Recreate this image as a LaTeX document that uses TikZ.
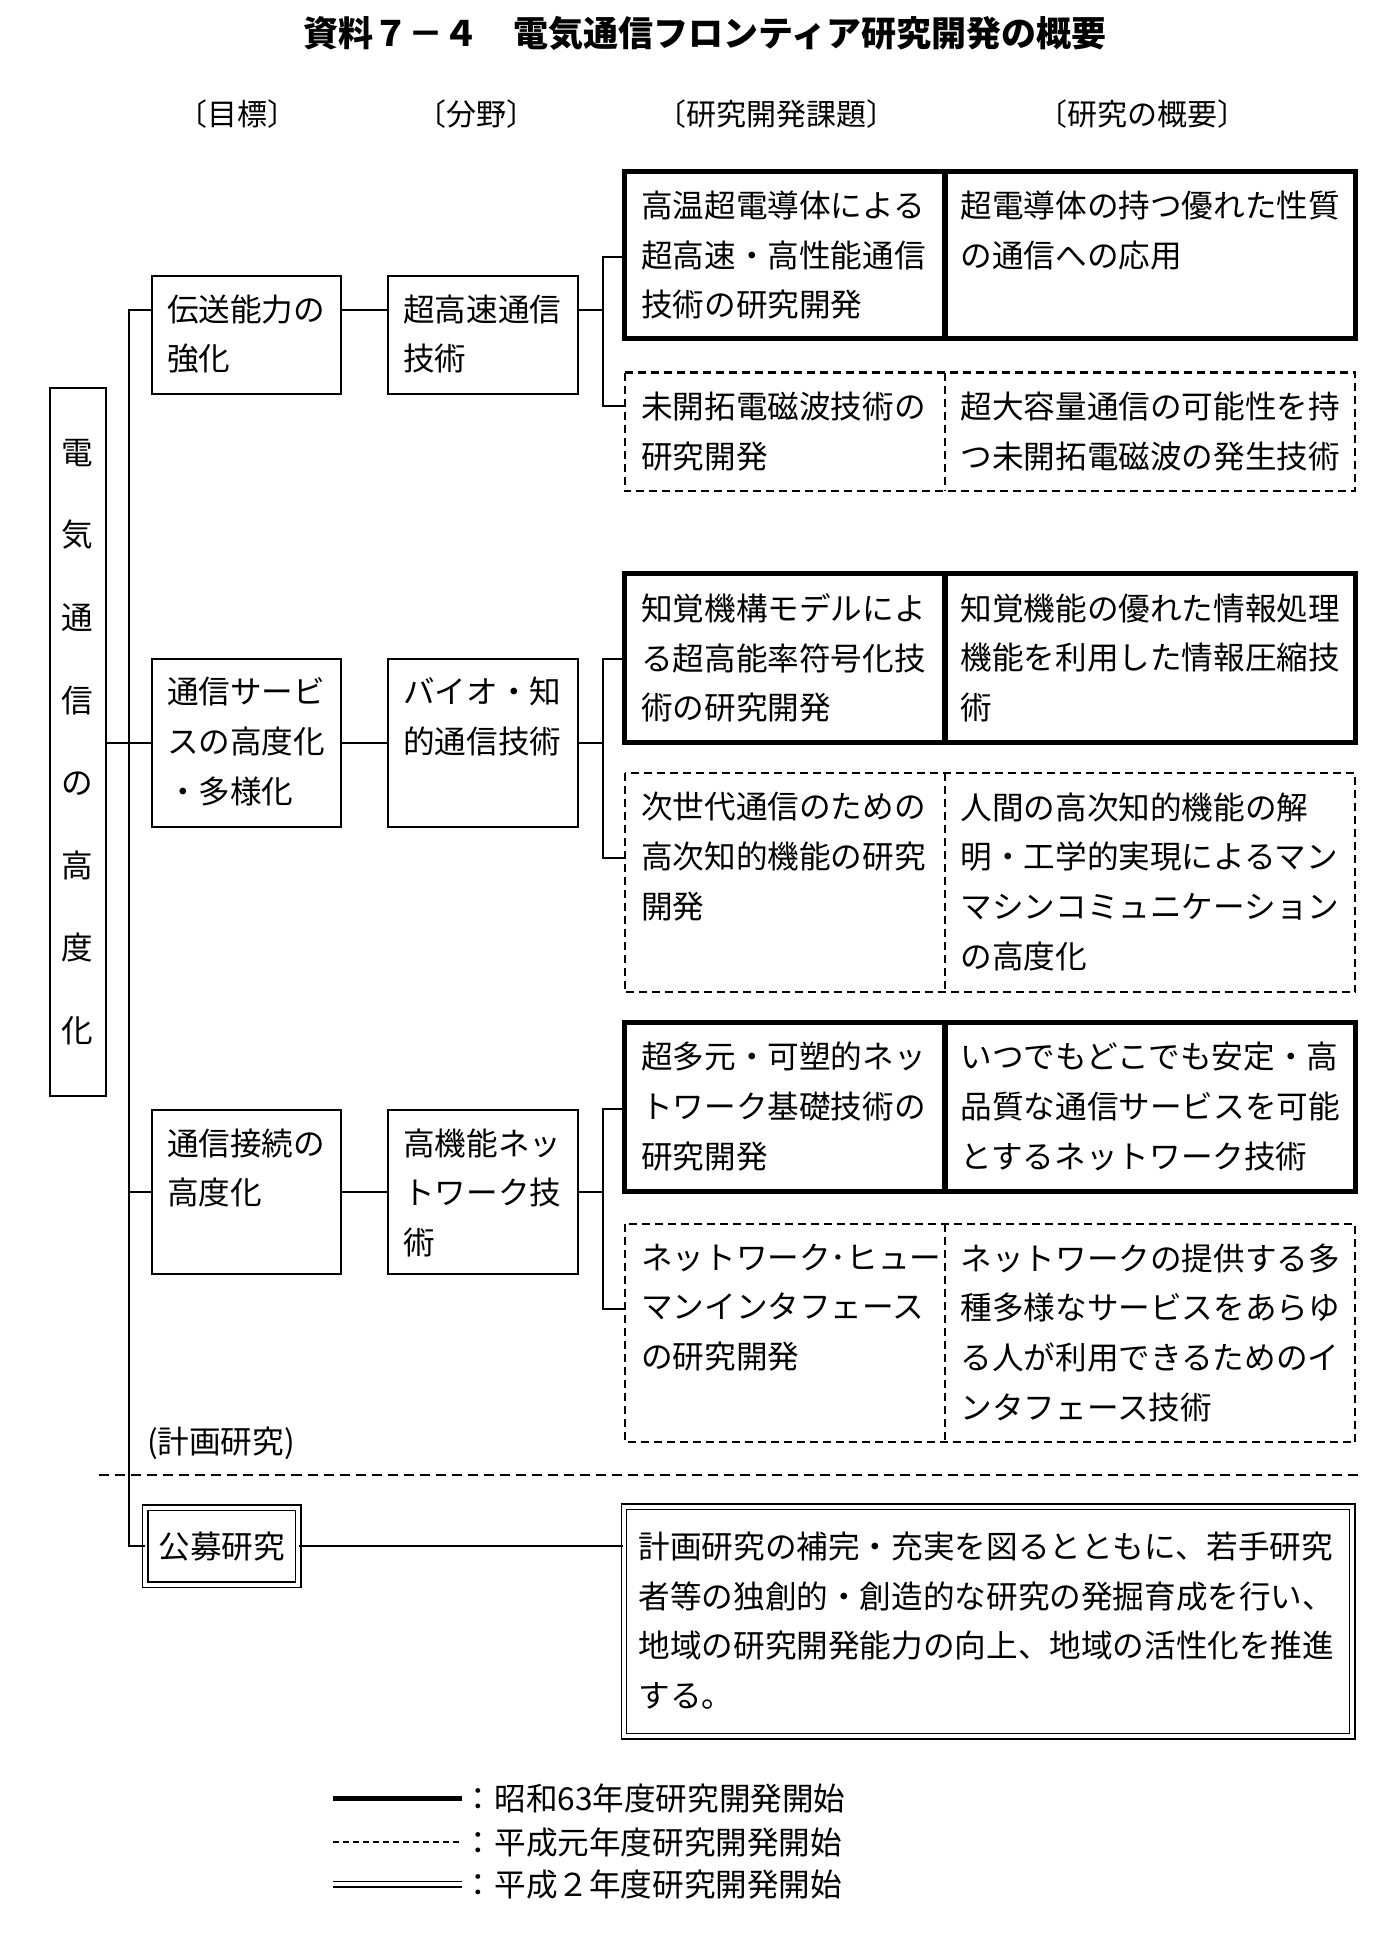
\documentclass[tikz,border=0pt]{standalone}
\usepackage{fontspec}
\setmainfont{Noto Sans CJK JP}
\usetikzlibrary{positioning,fit}

\newcommand{\bodysize}{\fontsize{15.8pt}{24.85pt}\selectfont}

\tikzset{
  box/.style={draw,line width=1pt,inner sep=0pt},
  cell/.style={inner sep=0pt},
  solidline/.style={line width=2.6pt},
  dashline/.style={line width=1pt,dash pattern=on 4pt off 2.5pt},
  dblline/.style={line width=0.7pt,double,double distance=2pt},
  sepline/.style={line width=1pt,dash pattern=on 5pt off 3pt},
  link/.style={line width=1pt},
  txt/.style={align=left,inner sep=0pt,font=\bodysize,execute at begin node=\strut},
  head/.style={inner sep=0pt,font=\fontsize{15pt}{18pt}\selectfont},
}

\begin{document}
\begin{tikzpicture}[x=0.6213pt,y=-0.6213pt]
  \useasboundingbox (0,0) rectangle (1121,1568);

  % title and column heads
  \node[inner sep=0pt,font=\fontsize{17.5pt}{20pt}\selectfont\bfseries] (title) at (567,27) {資料７－４　電気通信フロンティア研究開発の概要};
  \node[head] (h1) at (191,92) {〔目標〕};
  \node[head] (h2) at (383,92) {〔分野〕};
  \node[head] (h3) at (625,92) {〔研究開発課題〕};
  \node[head] (h4) at (919,92) {〔研究の概要〕};

  % goal
  \node[box, fit={(40,312) (85,882)}] (goal) {};
  \node[inner sep=0pt,align=center,font=\fontsize{15.8pt}{41.3pt}\selectfont] (goalt) at (goal.center) {電\\気\\通\\信\\の\\高\\度\\化};

  % targets and fields
  \node[box, fit={(122,222) (274,317)}] (m1) {};
  \node[box, fit={(122,530) (274,665)}] (m2) {};
  \node[box, fit={(122,893) (274,1025)}] (m3) {};
  \node[box, fit={(312,222) (465,317)}] (f1) {};
  \node[box, fit={(312,530) (465,665)}] (f2) {};
  \node[box, fit={(312,893) (465,1025)}] (f3) {};
  \node[txt, below right=9.6pt and 8pt of m1.north west] (m1t) {伝送能力の\\強化};
  \node[txt, below right=9.6pt and 8pt of m2.north west] (m2t) {通信サービ\\スの高度化\\・多様化};
  \node[txt, below right=9.6pt and 8pt of m3.north west] (m3t) {通信接続の\\高度化};
  \node[txt, below right=9.6pt and 8pt of f1.north west] (f1t) {超高速通信\\技術};
  \node[txt, below right=9.6pt and 8pt of f2.north west] (f2t) {バイオ・知\\的通信技術};
  \node[txt, below right=9.6pt and 8pt of f3.north west] (f3t) {高機能ネッ\\トワーク技\\術};

  % research themes (k) and outlines (g)
  \node[cell, fit={(503,138) (760,272)}] (k1) {};
  \node[cell, fit={(760,138) (1090,272)}] (g1) {};
  \node[cell, fit={(503,300) (760,395)}] (k2) {};
  \node[cell, fit={(760,300) (1090,395)}] (g2) {};
  \node[cell, fit={(503,462) (760,597)}] (k3) {};
  \node[cell, fit={(760,462) (1090,597)}] (g3) {};
  \node[cell, fit={(503,622) (760,798)}] (k4) {};
  \node[cell, fit={(760,622) (1090,798)}] (g4) {};
  \node[cell, fit={(503,823) (760,958)}] (k5) {};
  \node[cell, fit={(760,823) (1090,958)}] (g5) {};
  \node[cell, fit={(503,985) (760,1160)}] (k6) {};
  \node[cell, fit={(760,985) (1090,1160)}] (g6) {};
  \draw[solidline] (k1.north west) rectangle (g1.south east);
  \draw[solidline] (k1.north east) -- (k1.south east);
  \draw[dashline] (k2.north west) rectangle (g2.south east);
  \draw[dashline] (k2.north east) -- (k2.south east);
  \draw[solidline] (k3.north west) rectangle (g3.south east);
  \draw[solidline] (k3.north east) -- (k3.south east);
  \draw[dashline] (k4.north west) rectangle (g4.south east);
  \draw[dashline] (k4.north east) -- (k4.south east);
  \draw[solidline] (k5.north west) rectangle (g5.south east);
  \draw[solidline] (k5.north east) -- (k5.south east);
  \draw[dashline] (k6.north west) rectangle (g6.south east);
  \draw[dashline] (k6.north east) -- (k6.south east);

  \node[txt, below right=9.6pt and 8pt of k1.north west] (k1t) {高温超電導体による\\超高速・高性能通信\\技術の研究開発};
  \node[txt, below right=9.6pt and 8pt of g1.north west] (g1t) {超電導体の持つ優れた性質\\の通信への応用};
  \node[txt, below right=9.6pt and 8pt of k2.north west] (k2t) {未開拓電磁波技術の\\研究開発};
  \node[txt, below right=9.6pt and 8pt of g2.north west] (g2t) {超大容量通信の可能性を持\\つ未開拓電磁波の発生技術};
  \node[txt, below right=9.6pt and 8pt of k3.north west] (k3t) {知覚機構モデルによ\\る超高能率符号化技\\術の研究開発};
  \node[txt, below right=9.6pt and 8pt of g3.north west] (g3t) {知覚機能の優れた情報処理\\機能を利用した情報圧縮技\\術};
  \node[txt, below right=9.6pt and 8pt of k4.north west] (k4t) {次世代通信のための\\高次知的機能の研究\\開発};
  \node[txt, below right=9.6pt and 8pt of g4.north west] (g4t) {人間の高次知的機能の解\\明・工学的実現によるマン\\マシンコミュニケーション\\の高度化};
  \node[txt, below right=9.6pt and 8pt of k5.north west] (k5t) {超多元・可塑的ネッ\\トワーク基礎技術の\\研究開発};
  \node[txt, below right=9.6pt and 8pt of g5.north west] (g5t) {いつでもどこでも安定・高\\品質な通信サービスを可能\\とするネットワーク技術};
  \node[txt, below right=9.6pt and 8pt of k6.north west] (k6t) {ネットワーク･ヒュー\\マンインタフェース\\の研究開発};
  \node[txt, below right=9.6pt and 8pt of g6.north west] (g6t) {ネットワークの提供する多\\種多様なサービスをあらゆ\\る人が利用できるためのイ\\ンタフェース技術};

  % open call
  \node[box, dblline, fit={(117,1213) (240,1275)}] (kobo) {};
  \node[inner sep=0pt,font=\bodysize] (kobot) at (kobo.center) {公募研究};
  \node[box, dblline, fit={(502,1212) (1088,1397)}] (kdesc) {};
  \node[txt, below right=12.8pt and 7.5pt of kdesc.north west] (kdesct) {計画研究の補完・充実を図るとともに、若手研究\\者等の独創的・創造的な研究の発掘育成を行い、\\地域の研究開発能力の向上、地域の活性化を推進\\する。};
  \node[inner sep=0pt,font=\bodysize,anchor=west] (plan) at (118,1161) {(計画研究)};
  \draw[sepline] (80,1187) -- (1093,1187);

  % connectors
  \coordinate (r1) at (104,249);
  \coordinate (r2) at (104,598);
  \coordinate (r3) at (104,959);
  \coordinate (r4) at (104,1244);
  \coordinate (b1) at (485,207);
  \coordinate (b2) at (485,327);
  \coordinate (b3) at (485,530);
  \coordinate (b4) at (485,690);
  \coordinate (b5) at (485,892);
  \coordinate (b6) at (485,1053);
  \draw[link] (goal.east |- r2) -- (r2);
  \draw[link] (m1.west |- r1) -- (r1) -- (r4) -- (kobo.west);
  \draw[link] (r2) -- (m2.west |- r2);
  \draw[link] (r3) -- (m3.west |- r3);
  \draw[link] (m1.east |- r1) -- (f1.west |- r1);
  \draw[link] (m2.east |- r2) -- (f2.west |- r2);
  \draw[link] (m3.east |- r3) -- (f3.west |- r3);
  \draw[link] (f1.east |- r1) -- (b1 |- r1);
  \draw[link] (f2.east |- r2) -- (b3 |- r2);
  \draw[link] (f3.east |- r3) -- (b5 |- r3);
  \draw[link] (k1.west |- b1) -- (b1) -- (b2) -- (k2.west |- b2);
  \draw[link] (k3.west |- b3) -- (b3) -- (b4) -- (k4.west |- b4);
  \draw[link] (k5.west |- b5) -- (b5) -- (b6) -- (k6.west |- b6);
  \draw[link] (kobo.east) -- (kobo.east -| kdesc.west);

  % legend
  \node[inner sep=0pt,font=\bodysize,anchor=west] (lg1) at (372,1447) {：昭和63年度研究開発開始};
  \node[inner sep=0pt,font=\bodysize,anchor=west] (lg2) at (372,1482) {：平成元年度研究開発開始};
  \node[inner sep=0pt,font=\bodysize,anchor=west] (lg3) at (372,1516) {：平成２年度研究開発開始};
  \draw[solidline] (268,1447) -- (lg1.west);
  \draw[line width=0.8pt,dash pattern=on 3pt off 2pt] (268,1482) -- (lg2.west);
  \draw[dblline] (268,1516) -- (lg3.west);
\end{tikzpicture}
\end{document}
